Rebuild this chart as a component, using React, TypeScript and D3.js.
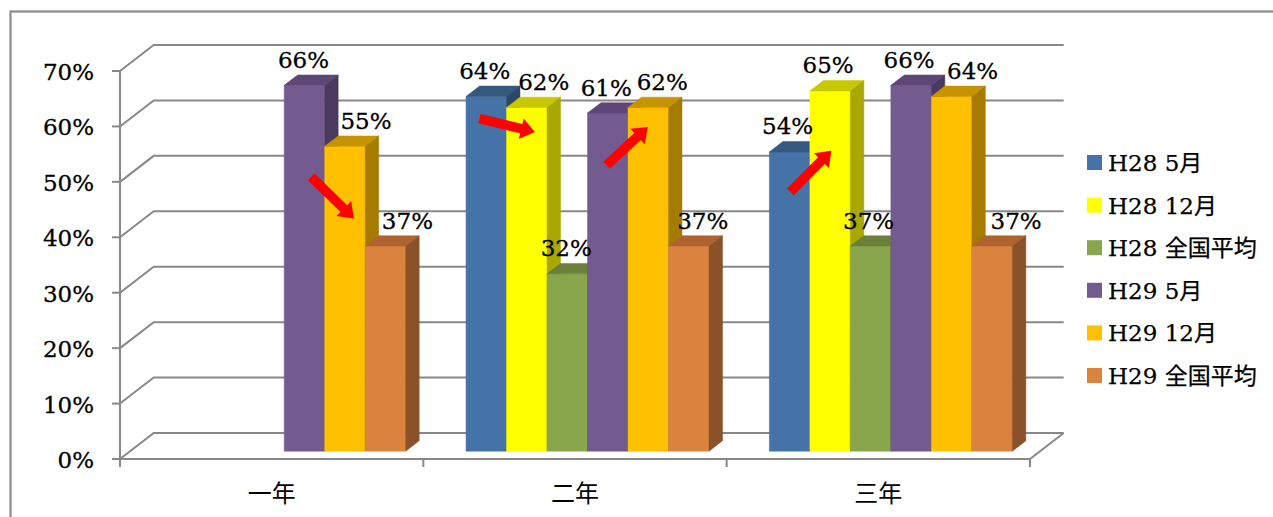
import React from 'react';
import * as d3 from 'd3';

// ---------------- data ----------------
const categories = ['一年', '二年', '三年'];
const seriesNames = ['H28 5月', 'H28 12月', 'H28 全国平均', 'H29 5月', 'H29 12月', 'H29 全国平均'];
const h28May: (number | null)[] = [null, 64, 54];
const h28Dec: (number | null)[] = [null, 62, 65];
const h28Nat: (number | null)[] = [null, 32, 37];
const h29May: (number | null)[] = [66, 61, 66];
const h29Dec: (number | null)[] = [55, 62, 64];
const h29Nat: (number | null)[] = [37, 37, 37];
const seriesValues = [h28May, h28Dec, h28Nat, h29May, h29Dec, h29Nat];
const yTicks = [0, 10, 20, 30, 40, 50, 60, 70];

// red change arrows: category, from slot/value -> to slot/value
const arrows = [
  { cat: 0, u0: 3.67, v0: 49.5, u1: 4.72, v1: 42.0 },
  { cat: 1, u0: 0.33, v0: 60.0, u1: 1.70, v1: 57.6 },
  { cat: 1, u0: 3.47, v0: 51.6, u1: 4.49, v1: 58.5 },
  { cat: 2, u0: 0.52, v0: 46.8, u1: 1.53, v1: 54.2 },
];

// label horizontal nudges (manual placement in original)
const labelNudge = [
  [0, 0, 0, 1, 23, 24],
  [0.5, 19, 1, 0.5, 16, 16],
  [0, 0, 0, 0, 23, 26],
];

// ---------------- style ----------------
const colors = [
  { front: '#4572A7', top: '#35587F', side: '#2B4868' },
  { front: '#FFFF00', top: '#C8C800', side: '#A8A800' },
  { front: '#8AA64D', top: '#6B803B', side: '#5A6C31' },
  { front: '#735A8F', top: '#5C4776', side: '#4A3A60' },
  { front: '#FFC000', top: '#C69400', side: '#A67C00' },
  { front: '#DC823F', top: '#AE6330', side: '#8B5128' },
];
const FONT = "'DejaVu Serif', 'Noto Sans CJK JP', serif";
const GRID = '#888888';
const TXT = { fontFamily: FONT, fill: '#000', stroke: '#000', strokeWidth: 0.3 } as const;

const X0 = 120, Y0 = 459, PLOT_W = 910, PLOT_H = 388;
const DX = 33.7, DY = 26;
const ZF = 0.3, ZB = 0.7;

const x = d3.scaleBand<string>().domain(categories).range([0, PLOT_W]);
const xs = d3
  .scaleBand<string>()
  .domain(seriesNames)
  .range([0, x.bandwidth()])
  .paddingOuter(0.745)
  .align(0.54);
const y = d3.scaleLinear().domain([0, 70]).range([0, PLOT_H]);
const legendY = d3.scaleLinear().domain([0, 5]).range([162.5, 375.5]);

const P = (px: number, v: number, z: number): [number, number] => [X0 + px + z * DX, Y0 - y(v) - z * DY];
const poly = (pts: [number, number][]) => pts.map((p) => p.join(',')).join(' ');

function arrowPoints(t: [number, number], q: [number, number]) {
  const dx = q[0] - t[0], dy = q[1] - t[1];
  const len = Math.hypot(dx, dy);
  const d = [dx / len, dy / len];
  const n = [-d[1], d[0]];
  const hw = 4.8, hh = 10.5, hl = 14;
  const b = [q[0] - d[0] * hl, q[1] - d[1] * hl];
  const pts: [number, number][] = [
    [t[0] + n[0] * hw, t[1] + n[1] * hw],
    [b[0] + n[0] * hw, b[1] + n[1] * hw],
    [b[0] + n[0] * hh, b[1] + n[1] * hh],
    [q[0], q[1]],
    [b[0] - n[0] * hh, b[1] - n[1] * hh],
    [b[0] - n[0] * hw, b[1] - n[1] * hw],
    [t[0] - n[0] * hw, t[1] - n[1] * hw],
  ];
  return poly(pts);
}

export default function App() {
  const line = d3.line();
  const bars: JSX.Element[] = [];
  const labels: JSX.Element[] = [];
  categories.forEach((cat, ci) => {
    seriesNames.forEach((s, si) => {
      const v = seriesValues[si][ci];
      if (v == null) return;
      const x0 = (x(cat) as number) + (xs(s) as number);
      const x1 = x0 + xs.bandwidth();
      const c = colors[si];
      bars.push(
        <g key={`b${ci}-${si}`}>
          <polygon points={poly([P(x0, 0, ZF), P(x1, 0, ZF), P(x1, v, ZF), P(x0, v, ZF)])} fill={c.front} stroke={c.front} strokeWidth={0.5} />
          <polygon points={poly([P(x0, v, ZF), P(x1, v, ZF), P(x1, v, ZB), P(x0, v, ZB)])} fill={c.top} stroke={c.top} strokeWidth={0.5} />
          <polygon points={poly([P(x1, 0, ZF), P(x1, 0, ZB), P(x1, v, ZB), P(x1, v, ZF)])} fill={c.side} stroke={c.side} strokeWidth={0.5} />
        </g>
      );
      const [fx, fy] = P((x0 + x1) / 2, v, ZF);
      labels.push(
        <text key={`l${ci}-${si}`} x={fx - 2 + labelNudge[ci][si]} y={fy - 17.5} textAnchor="middle" fontSize={23} {...TXT}>
          {`${v}%`}
        </text>
      );
    });
  });

  const tickXs = [0, ...categories.map((c) => (x(c) as number) + x.bandwidth())];

  return (
    <svg width={1273} height={517} style={{ position: 'absolute', left: 0, top: 0, background: '#fff' }}>
      <rect x={10.5} y={11.5} width={1400} height={700} fill="#fff" stroke="#8a8a8a" strokeWidth={2.2} />
      {/* walls */}
      {yTicks.map((t) => {
        const a = P(0, t, 0), b = P(0, t, 1), c = P(PLOT_W, t, 1);
        return (
          <path key={`g${t}`} d={line([a, b, c]) as string} fill="none" stroke={GRID} strokeWidth={2} />
        );
      })}
      {/* floor front + right edge */}
      <path d={line([P(0, 0, 0), P(PLOT_W, 0, 0), P(PLOT_W, 0, 1)]) as string} fill="none" stroke={GRID} strokeWidth={2} />
      {/* y axis */}
      <line x1={X0} x2={X0} y1={Y0 - y(70)} y2={Y0 + 8} stroke={GRID} strokeWidth={2} />
      {yTicks.map((t) => (
        <g key={`yt${t}`}>
          <line x1={X0 - 8} x2={X0} y1={Y0 - y(t)} y2={Y0 - y(t)} stroke={GRID} strokeWidth={2} />
          <text x={94} y={Y0 - y(t) + 9} textAnchor="end" fontSize={23} {...TXT}>
            {`${t}%`}
          </text>
        </g>
      ))}
      {tickXs.map((tx, i) => (
        <line key={`xt${i}`} x1={X0 + tx} x2={X0 + tx} y1={Y0} y2={Y0 + 8} stroke={GRID} strokeWidth={2} />
      ))}
      {categories.map((c) => (
        <text key={`c${c}`} x={X0 + (x(c) as number) + x.bandwidth() / 2} y={502} textAnchor="middle" fontFamily={FONT} fontSize={24} fill="#000">
          {c}
        </text>
      ))}
      {bars}
      {labels}
      {arrows.map((a, i) => {
        const base = (ci: number) => (x(categories[ci]) as number) + (xs(seriesNames[0]) as number);
        const t = P(base(a.cat) + a.u0 * xs.step(), a.v0, ZF);
        const q = P(base(a.cat) + a.u1 * xs.step(), a.v1, ZF);
        return <polygon key={`a${i}`} points={arrowPoints(t, q)} fill="#FF0000" />;
      })}
      {/* legend */}
      {seriesNames.map((s, i) => (
        <g key={`lg${i}`}>
          <rect x={1087} y={legendY(i) - 7.5} width={15} height={15} fill={colors[i].front} />
          <text x={1108} y={legendY(i) + 8.5} fontSize={23} {...TXT} strokeWidth={0.25}>
            {s}
          </text>
        </g>
      ))}
    </svg>
  );
}
